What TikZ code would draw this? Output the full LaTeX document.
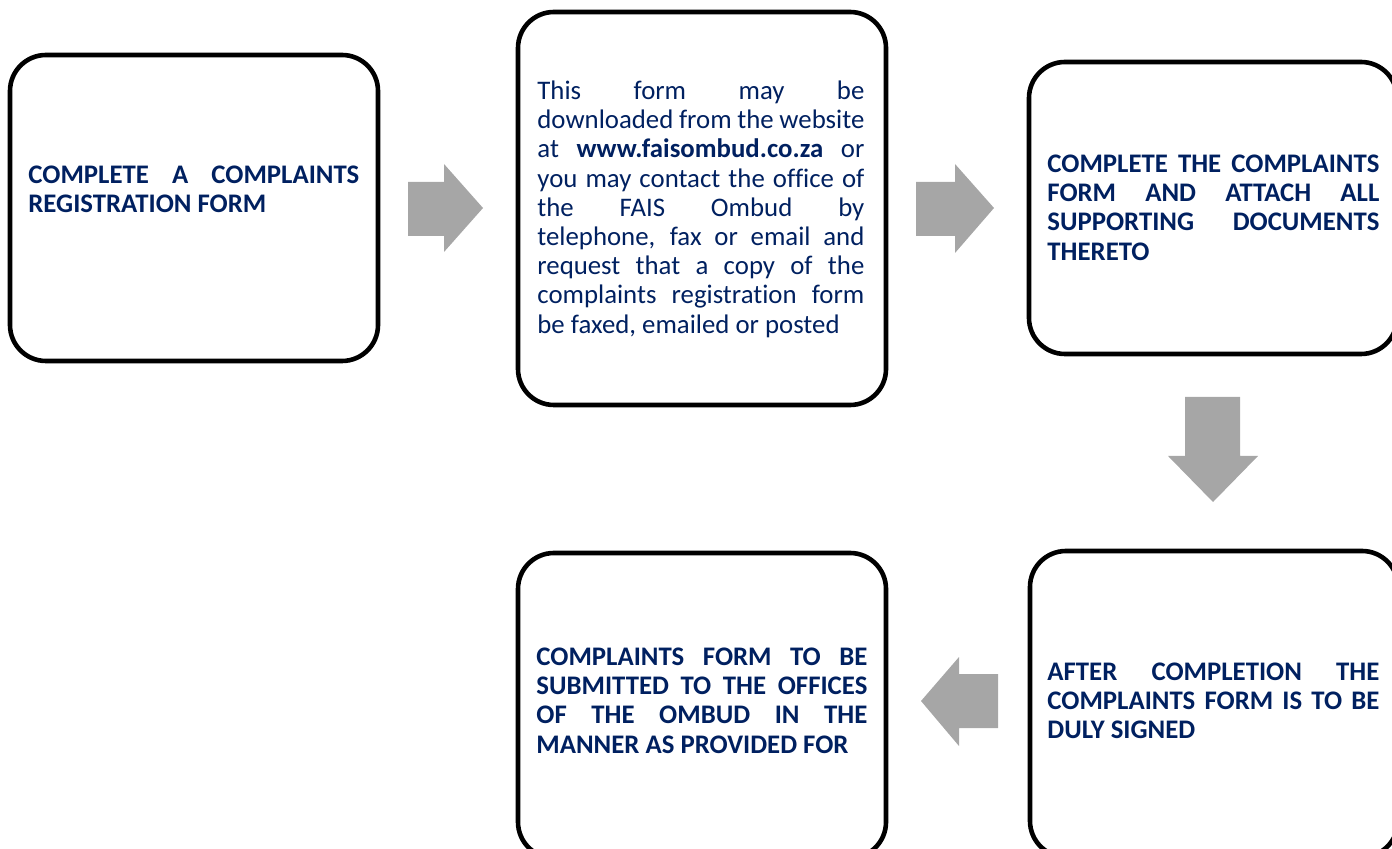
\documentclass[tikz,border=0pt]{standalone}
\usepackage{fontspec}
\setmainfont{Carlito}[Ligatures={NoCommon}]
\definecolor{TextColor}{RGB}{0,32,96}
\definecolor{ArrowColor}{RGB}{166,166,166}
\usepackage{tikz}
\usetikzlibrary{positioning}
\tikzstyle{box} = [draw=black, line width=2.3pt, rounded corners=18pt, minimum width=184pt, inner sep=0pt]
\tikzstyle{boxtext} = [anchor=north west, inner sep=0pt, text width=165.5pt, align=justify, text=TextColor, font=\fontsize{13.4}{14.6}\selectfont]
\tikzstyle{blockarrow} = [fill=ArrowColor]
\begin{document}
\begin{tikzpicture}[x=0.5pt, y=-0.5pt]
                \useasboundingbox (0,0) rectangle (1392,849);
                \clip (0,0) rectangle (1392,849);

                % Boxes
                \node[box, minimum height=153pt] (b1) at (194,208) {};
                \node[box, minimum height=196.5pt] (b2) at (702,208.5) {};
                \node[box, minimum height=146pt] (b3) at (1213,208) {};
                \node[box, minimum height=153pt] (b4) at (1214,704) {};
                \node[box, minimum height=152.5pt] (b5) at (702,705.5) {};

                % Texts
                \node[boxtext, font=\fontsize{13.4}{14.6}\selectfont\bfseries] (t1) at (28,162.6)
                    {\strut COMPLETE A COMPLAINTS\linebreak REGISTRATION FORM};
                \node[boxtext, text width=163.5pt] (t2) at (537,78.6)
                    {\strut This form may be\linebreak downloaded from the website\linebreak
                     at \textbf{www.faisombud.co.za} or\linebreak you may contact the office of\linebreak
                     the FAIS Ombud by\linebreak telephone, fax or email and\linebreak
                     request that a copy of the\linebreak complaints registration form\linebreak
                     be faxed, emailed or posted};
                \node[boxtext, text width=166pt, font=\fontsize{13.4}{14.6}\selectfont\bfseries] (t3) at (1047,151.6)
                    {\strut COMPLETE THE COMPLAINTS\linebreak FORM AND ATTACH ALL\linebreak
                     SUPPORTING DOCUMENTS\linebreak THERETO};
                \node[boxtext, text width=166pt, font=\fontsize{13.4}{14.6}\selectfont\bfseries] (t4) at (1047,659.6)
                    {\strut AFTER COMPLETION THE\linebreak COMPLAINTS FORM IS TO BE\linebreak DULY SIGNED};
                \node[boxtext, font=\fontsize{13.4}{14.6}\selectfont\bfseries] (t5) at (536,644.6)
                    {\strut COMPLAINTS FORM TO BE\linebreak SUBMITTED TO THE OFFICES\linebreak
                     OF THE OMBUD IN THE\linebreak MANNER AS PROVIDED FOR};

                % Arrows
                \fill[blockarrow] (408,182) -- (444,182) -- (444,164) -- (483,208)
                    -- (444,252) -- (444,236) -- (408,236) -- cycle;
                \fill[blockarrow] (916,182) -- (955,182) -- (955,164) -- (994,208)
                    -- (955,253) -- (955,236) -- (916,236) -- cycle;
                \fill[blockarrow] (1185,397) -- (1240,397) -- (1240,456) -- (1258,456)
                    -- (1213,502) -- (1168,456) -- (1185,456) -- cycle;
                \fill[blockarrow] (998,674) -- (959,674) -- (959,657) -- (921,701)
                    -- (959,746) -- (959,728) -- (998,728) -- cycle;
            \end{tikzpicture}
\end{document}
